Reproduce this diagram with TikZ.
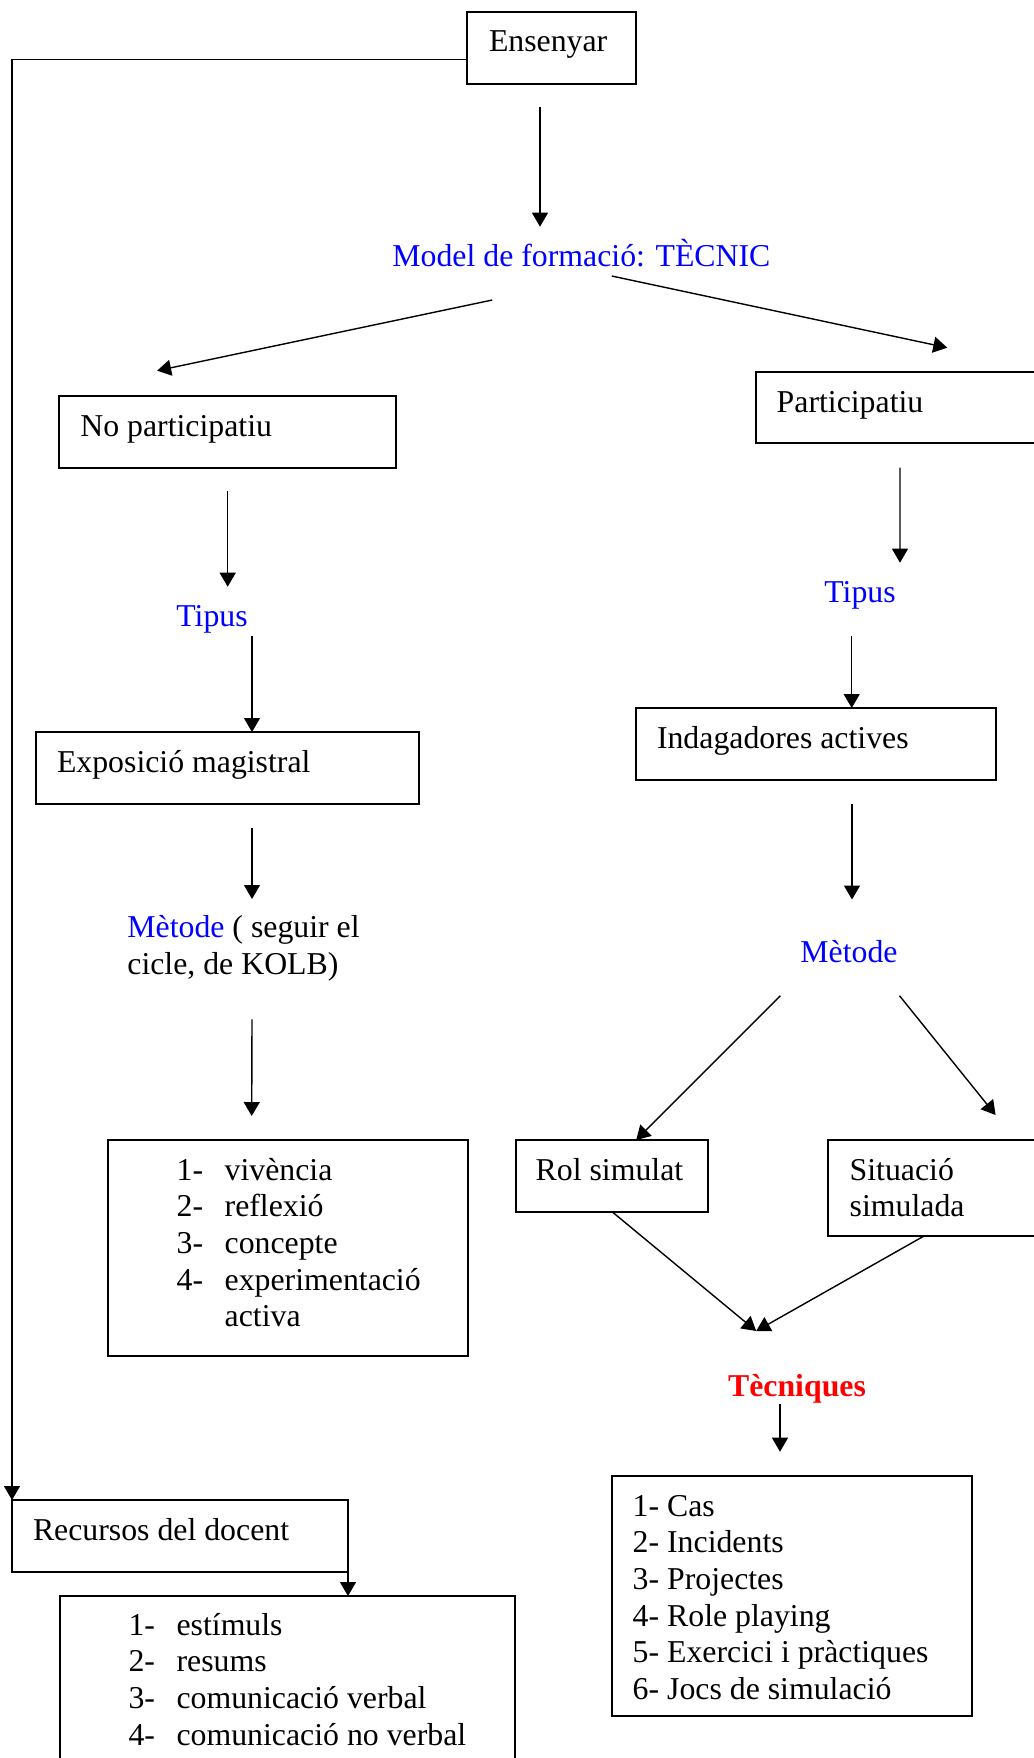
\documentclass[tikz,border=0pt]{standalone}
\usepackage{fontspec}
\setmainfont{Liberation Serif}
\usepackage{xcolor}
\usepackage{tikz}
\usetikzlibrary{arrows.meta, calc}
\definecolor{blaumodel}{RGB}{0, 0, 255}
\definecolor{vermelltec}{RGB}{255, 0, 0}
\newcommand{\lletra}{\fontsize{15.9pt}{18.35pt}\selectfont}
\newcommand{\elem}[2]{\hspace*{24pt}\makebox[24pt][l]{#1}#2}
\tikzset{
    caixa/.style={draw, line width=1pt, anchor=north west, outer sep=0pt, inner ysep=0pt, inner xsep=10.5pt, align=flush left, font=\lletra, text height=20pt, text depth=16pt},
    etiq/.style={anchor=base west, inner sep=0pt, font=\lletra},
    fletxa/.style={-{Triangle[length=7pt, width=8pt]}, line width=0.7pt}
}

\begin{document}
\begin{tikzpicture}[x=0.5pt, y=-0.5pt]
    \useasboundingbox (0,0) rectangle (1034,1758);
    \clip (0,0) rectangle (1034,1758);

    % Top of the tree
    \node[caixa, inner xsep=11pt, text width=62.5pt] (ens) at (467,11.7) {Ensenyar};
    \node[etiq, blaumodel] (model) at (392,266.7) {Model de formació: TÈCNIC};

    % Left branch (no participatiu)
    \node[caixa, text width=147.3pt] (nopart) at (59.4,396) {No participatiu};
    \node[etiq, blaumodel] (tipusE) at (176,626.7) {Tipus};
    \node[caixa, text width=170.5pt] (expo) at (36,732) {Exposició magistral};
    \node[etiq, text width=150pt, align=flush left] (metodeE) at (127,937.3) {{\color{blaumodel}Mètode} ( seguir el\\cicle, de KOLB)};
    \node[caixa, text width=159pt, text depth=88pt] (viv) at (107.7,1140) {\elem{1-}{vivència}\\\elem{2-}{reflexió}\\\elem{3-}{concepte}\\\elem{4-}{experimentació}\\\elem{}{activa}};

    % Right branch (participatiu)
    \node[caixa, text width=139pt, text height=20.5pt, text depth=15.3pt] (part) at (755.7,371.7) {Participatiu};
    \node[etiq, blaumodel] (tipusD) at (824,602.7) {Tipus};
    \node[caixa, text width=159pt] (inda) at (636,708) {Indagadores actives};
    \node[etiq, blaumodel] (metodeD) at (800,962.7) {Mètode};
    \node[caixa, inner xsep=10pt, text width=76.35pt] (rol) at (515.7,1140) {Rol simulat};
    \node[caixa, inner xsep=11pt, text width=108pt, text depth=28pt] (sit) at (827.7,1140) {Situació\\simulada};
    \node[etiq, vermelltec, font=\lletra\bfseries] (tecn) at (727.7,1396.7) {Tècniques};
    \node[caixa, text width=159.3pt, text depth=100pt] (tlist) at (611.7,1476) {1- Cas\\2- Incidents\\3- Projectes\\4- Role playing\\5- Exercici i pràctiques\\6- Jocs de simulació};

    % Teacher resources
    \node[caixa, text width=147pt] (rec) at (12,1500) {Recursos del docent};
    \node[caixa, text width=206.7pt, text height=19.5pt, text depth=100pt] (rlist) at (59.6,1596) {\elem{1-}{estímuls}\\\elem{2-}{resums}\\\elem{3-}{comunicació verbal}\\\elem{4-}{comunicació no verbal}};

    % Arrows
    \draw[fletxa] ($(ens.south)+(-11.5,23.3)$) -- ($(model.base west)+(148,-40)$);
    \draw[fletxa] ($(ens.west)+(0,12)$) -| (rec.north west);
    \draw[fletxa] ($(model.base west)+(100.3,33.3)$) -- ($(nopart.north west)+(97.7,-25.3)$);
    \draw[fletxa] ($(model.base west)+(219.7,9.3)$) -- ($(part.north west)+(191.6,-24)$);

    \draw[fletxa] ($(nopart.south west)+(168.3,23.3)$) -- ($(tipusE.base west)+(51.7,-40)$);
    \draw[fletxa] ($(tipusE.base west)+(76,9)$) -- ($(expo.north west)+(216,0)$);
    \draw[fletxa] ($(expo.south west)+(216,24)$) -- ($(metodeE.base west)+(125,-38.3)$);
    \draw[fletxa] ($(metodeE.base west)+(125,82.1)$) -- ($(viv.north west)+(144,-24)$);

    \draw[fletxa] ($(part.south west)+(144.3,24.4)$) -- ($(tipusD.base west)+(76,-40)$);
    \draw[fletxa] ($(tipusD.base west)+(27.7,33.3)$) -- ($(inda.north west)+(215.7,0)$);
    \draw[fletxa] ($(inda.south west)+(216,24)$) -- ($(metodeD.base west)+(52,-63.2)$);
    \draw[fletxa] ($(metodeD.base west)+(-19.7,33)$) -- ($(rol.north west)+(120.5,0)$);
    \draw[fletxa] ($(metodeD.base west)+(99.5,33)$) -- ($(sit.north west)+(167.9,-25)$);
    \draw[fletxa] ($(rol.south west)+(96.7,0)$) -- ($(tecn.base west)+(28.5,-65.7)$);
    \draw[fletxa] ($(sit.south west)+(96.3,0)$) -- ($(tecn.base west)+(28.5,-65.7)$);
    \draw[fletxa] ($(tecn.base west)+(52.3,7.3)$) -- ($(tlist.north west)+(168.3,-24.3)$);

    \draw[fletxa] (rec.south east) -- (rec.south east |- rlist.north);
\end{tikzpicture}
\end{document}
